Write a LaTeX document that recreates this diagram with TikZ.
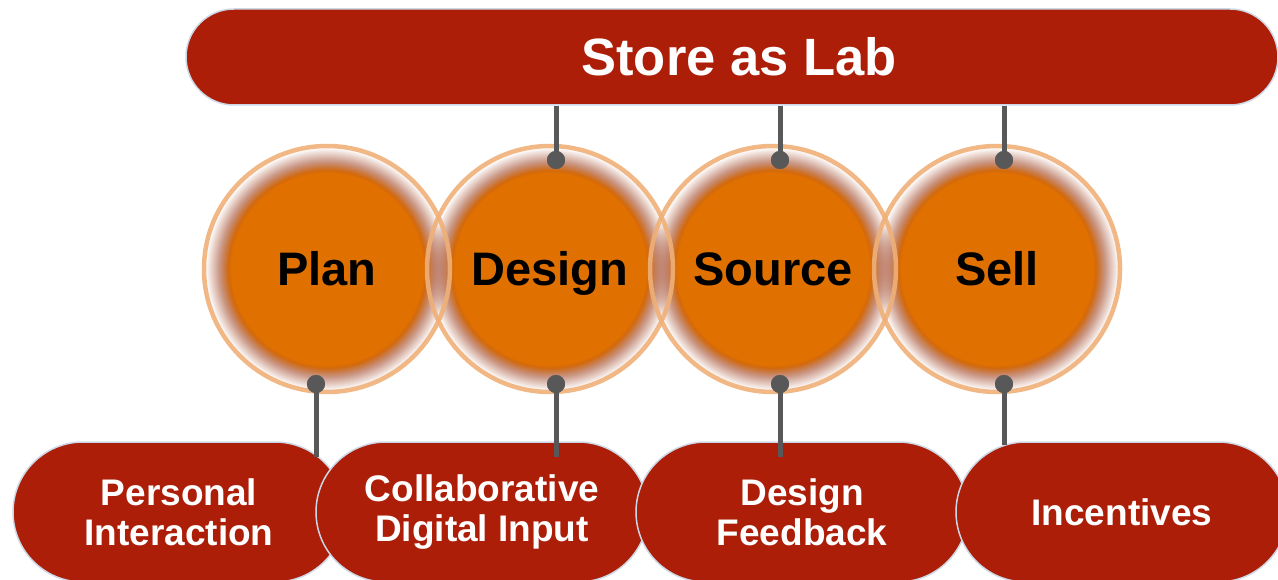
\documentclass[tikz,border=0pt]{standalone}
\usepackage{fontspec}
\setmainfont{Liberation Sans}
\usetikzlibrary{shapes.misc,fadings}

\definecolor{barred}{RGB}{172,30,8}
\definecolor{coreorange}{RGB}{224,112,0}
\definecolor{fuzzbrown}{RGB}{165,80,50}
\definecolor{ringorange}{RGB}{239,176,120}
\definecolor{edgeblue}{RGB}{205,216,230}
\definecolor{connector}{RGB}{88,88,88}

% soft-edged stage disc: solid orange core fading out through a brownish halo
\pgfdeclareradialshading{discshade}{\pgfpointorigin}{color(0bp)=(coreorange); color(19.5bp)=(coreorange); color(22bp)=(fuzzbrown); color(50bp)=(fuzzbrown)}
\pgfdeclareradialshading{discfadeshade}{\pgfpointorigin}{color(0bp)=(pgftransparent!0); color(20bp)=(pgftransparent!0); color(24.6bp)=(pgftransparent!100); color(50bp)=(pgftransparent!100)}
\pgfdeclarefading{discfade}{\pgfuseshading{discfadeshade}}

\begin{document}
\begin{tikzpicture}[x=1pt,y=-1pt,
  banner/.style={rounded rectangle, draw=edgeblue, line width=1.5pt, fill=barred,
    text=white, font=\bfseries\fontsize{52.5}{56}\selectfont,
    minimum width=1092pt, minimum height=96pt, inner sep=0pt},
  pill/.style={rounded rectangle, draw=edgeblue, line width=1.5pt, fill=barred,
    text=white, font=\bfseries\fontsize{37}{40}\selectfont, align=center,
    minimum width=332pt, minimum height=140pt, inner sep=0pt},
  stage/.style={circle, draw=ringorange, draw opacity=0.9, line width=4.5pt,
    minimum size=246pt, inner sep=0pt, text=black,
    text height=33.7pt, text depth=0pt,
    font=\bfseries\fontsize{47}{50}\selectfont},
  halo/.style={shading=discshade, path fading=discfade},
  link/.style={draw=connector, line width=5pt},
  knob/.style={circle, fill=connector, minimum size=18pt, inner sep=0pt},
]
\useasboundingbox (0,0) rectangle (1278,580);

% stage centres
\coordinate (cplan)   at (327,269);
\coordinate (cdesign) at (550,269);
\coordinate (csource) at (773,269);
\coordinate (csell)   at (997,269);

% soft discs
\shade[halo] (cplan)   circle (123pt);
\shade[halo] (cdesign) circle (123pt);
\shade[halo] (csource) circle (123pt);
\shade[halo] (csell)   circle (123pt);

% rings and stage names
\node[stage] (plan)   at (cplan)   {Plan};
\node[stage] (design) at (cdesign) {Design};
\node[stage] (source) at (csource) {Source};
\node[stage] (sell)   at (csell)   {Sell};

% top banner
\node[banner] (lab) at (732,57) {\hspace*{14pt}Store as Lab};

% bottom pills, each overlapping the previous one
\node[pill] (personal) at (179,512) {Personal\\Interaction};
\node[pill] (collab)   at (482,512) {Collaborative\\Digital Input};
\node[pill] (feedback) at (802,512) {Design\\Feedback};
\node[pill] (incent)   at (1122,512) {Incentives};

% connector knobs
\node[knob] (tdesign) at (556,160) {};
\node[knob] (tsource) at (780,160) {};
\node[knob] (tsell)   at (1004,160) {};
\node[knob] (bplan)   at (316,384) {};
\node[knob] (bdesign) at (556,384) {};
\node[knob] (bsource) at (780,384) {};
\node[knob] (bsell)   at (1004,384) {};

\coordinate (eplan)   at (316,457);
\coordinate (edesign) at (556,457);
\coordinate (esource) at (780,457);
\coordinate (esell)   at (1004,445);

% connectors from the banner down to the stages
\draw[link] (tdesign.center) -- (tdesign |- lab.south);
\draw[link] (tsource.center) -- (tsource |- lab.south);
\draw[link] (tsell.center)   -- (tsell |- lab.south);

% connectors from the stages down to the pills
\draw[link] (bplan.center)   -- (eplan);
\draw[link] (bdesign.center) -- (edesign);
\draw[link] (bsource.center) -- (esource);
\draw[link] (bsell.center)   -- (esell);

% redraw knobs over the line ends
\foreach \k in {tdesign,tsource,tsell,bplan,bdesign,bsource,bsell}
  \fill[connector] (\k.center) circle (9pt);
\end{tikzpicture}
\end{document}
